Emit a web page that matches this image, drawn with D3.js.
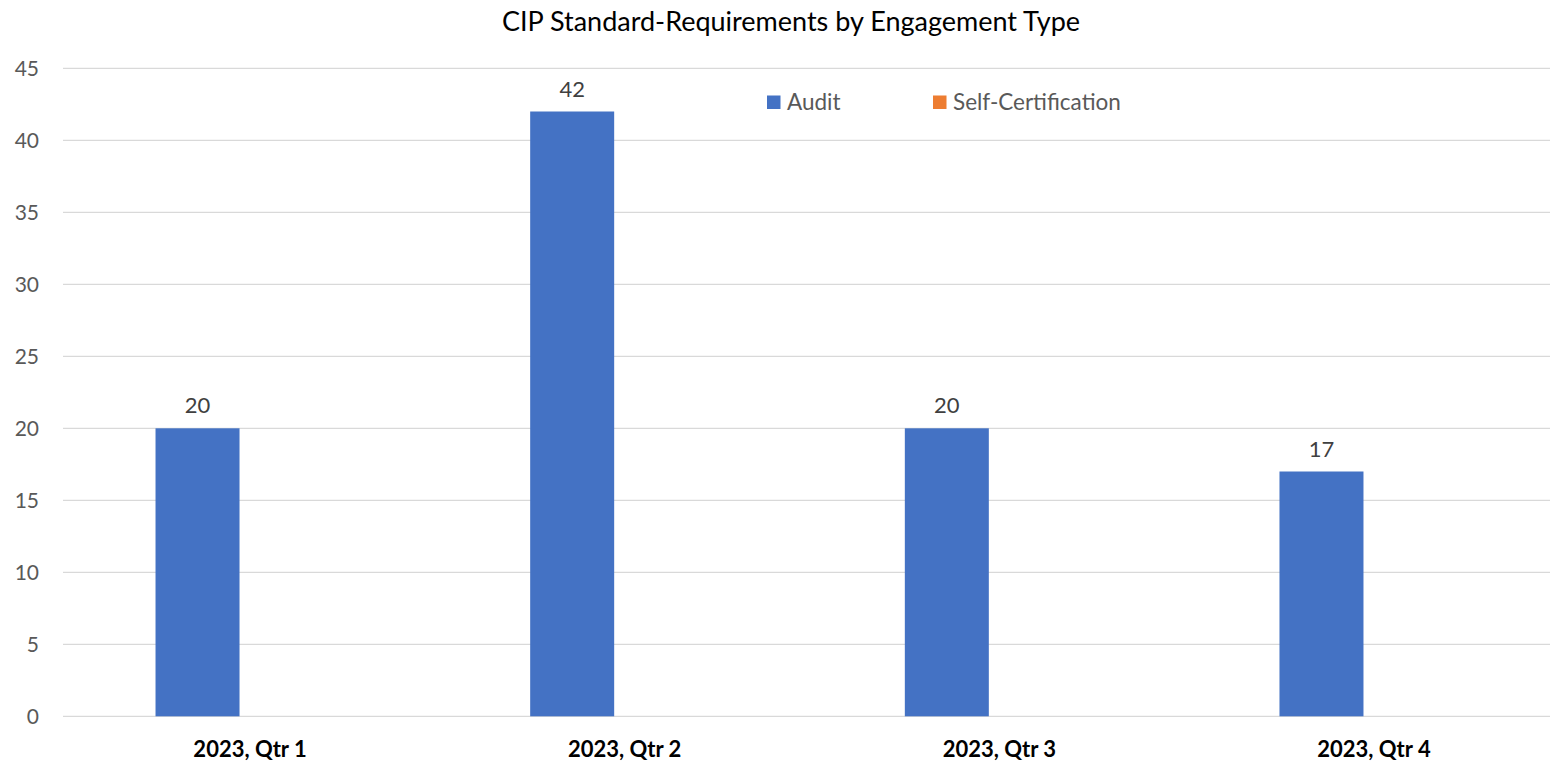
<!DOCTYPE html>
<html>
<head>
<meta charset="utf-8">
<script src="https://cdn.jsdelivr.net/npm/d3@7"></script>
<style>
  body { margin: 0; background: #fff; }
  text { font-family: Lato, "Open Sans", sans-serif; }
</style>
</head>
<body>
<div class="chart"></div>
<script>
// chart values
const categories = ["2023, Qtr 1", "2023, Qtr 2", "2023, Qtr 3", "2023, Qtr 4"];
const seriesNames = ["Audit", "Self-Certification"];
const audit = [20, 42, 20, 17];
const selfCert = [0, 0, 0, 0];
const yTicks = [0, 5, 10, 15, 20, 25, 30, 35, 40, 45];
const colors = ["#4472C4", "#ED7D31"];

const width = 1550, height = 764;
const svg = d3.select("div.chart").append("svg")
  .attr("width", width)
  .attr("height", height);

const x0 = d3.scaleBand()
  .domain(categories)
  .range([62.7, 1561.3])
  .padding(0);

const x1 = d3.scaleBand()
  .domain(seriesNames)
  .range([-105, 105])
  .paddingInner(0.2)
  .paddingOuter(0.1);

const y = d3.scaleLinear()
  .domain([0, 45])
  .range([716.3, 68.3]);

// gridlines
svg.append("g")
  .selectAll("line")
  .data(yTicks)
  .enter().append("line")
  .attr("x1", 63)
  .attr("x2", width)
  .attr("y1", d => y(d))
  .attr("y2", d => y(d))
  .attr("stroke", "#d9d9d9")
  .attr("stroke-width", 1.3);

// y axis labels
const yAxis = d3.axisLeft(y).tickValues(yTicks).tickSize(0).tickPadding(0);
svg.append("g")
  .attr("transform", "translate(39,0)")
  .call(yAxis)
  .call(g => g.select(".domain").remove())
  .selectAll("text")
  .attr("font-size", 21)
  .attr("fill", "#595959")
  .style("font-family", "Lato, 'Open Sans', sans-serif");

// category labels
const xAxis = d3.axisBottom(x0).tickSize(0).tickPadding(0);
svg.append("g")
  .attr("transform", "translate(0,741)")
  .call(xAxis)
  .call(g => g.select(".domain").remove())
  .selectAll("text")
  .attr("font-size", 22)
  .attr("font-weight", "bold")
  .attr("fill", "#000")
  .style("font-family", "Lato, 'Open Sans', sans-serif");

// bars
const rows = categories.map((c, i) => ({ cat: c, values: [
  { name: seriesNames[0], value: audit[i], color: colors[0] },
  { name: seriesNames[1], value: selfCert[i], color: colors[1] }
]}));

const groups = svg.append("g")
  .selectAll("g")
  .data(rows)
  .enter().append("g")
  .attr("transform", d => `translate(${x0(d.cat) + x0.bandwidth() / 2},0)`);

groups.selectAll("rect")
  .data(d => d.values.filter(v => v.value > 0))
  .enter().append("rect")
  .attr("x", d => x1(d.name))
  .attr("width", x1.bandwidth())
  .attr("y", d => y(d.value))
  .attr("height", d => y(0) - y(d.value))
  .attr("fill", d => d.color);

groups.selectAll("text.value")
  .data(d => d.values.filter(v => v.value > 0))
  .enter().append("text")
  .attr("class", "value")
  .attr("x", d => x1(d.name) + x1.bandwidth() / 2)
  .attr("y", d => y(d.value) - 15)
  .attr("text-anchor", "middle")
  .attr("font-size", 22)
  .attr("fill", "#404040")
  .text(d => d.value);

// title
svg.append("text")
  .attr("x", 791)
  .attr("y", 31)
  .attr("text-anchor", "middle")
  .attr("font-size", 27)
  .attr("fill", "#000")
  .text("CIP Standard-Requirements by Engagement Type");

// legend
const legendX = [767, 933];
const legend = svg.append("g")
  .selectAll("g")
  .data(seriesNames)
  .enter().append("g")
  .attr("transform", (d, i) => `translate(${legendX[i]},95.5)`);

legend.append("rect")
  .attr("width", 13.5)
  .attr("height", 13.5)
  .attr("fill", (d, i) => colors[i]);

legend.append("text")
  .attr("x", 20)
  .attr("y", 14)
  .attr("font-size", 22.5)
  .attr("fill", "#595959")
  .text(d => d);
</script>
</body>
</html>
